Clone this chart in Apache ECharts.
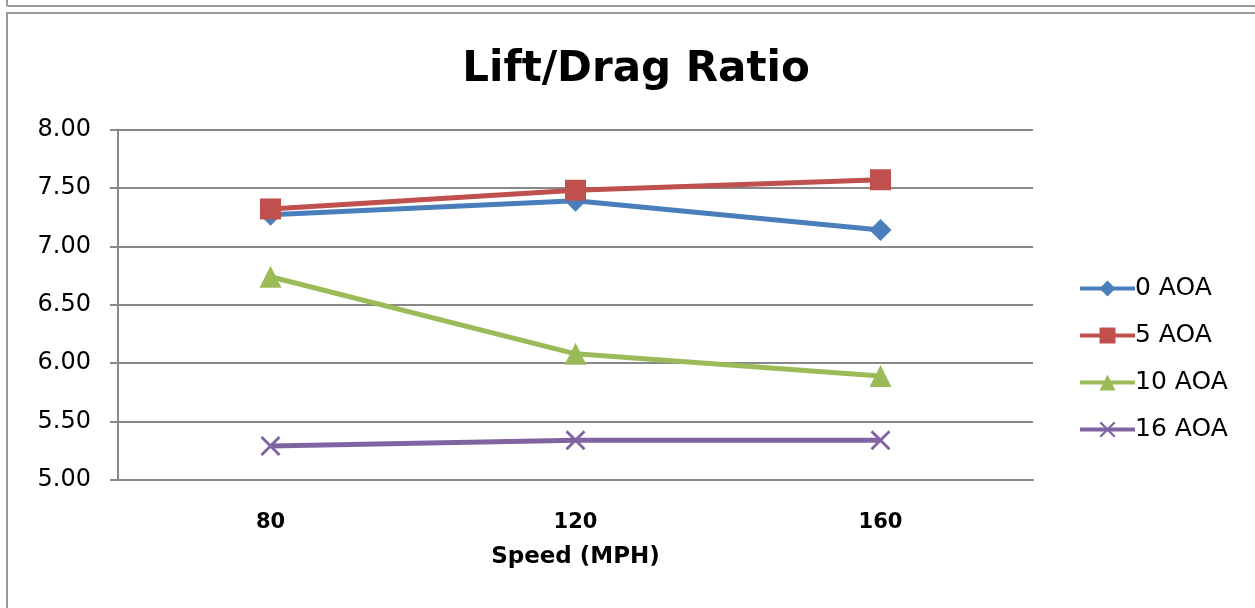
<!DOCTYPE html>
<html>
<head>
<meta charset="utf-8">
<script src="https://cdn.jsdelivr.net/npm/echarts@6/dist/echarts.min.js"></script>
<style>
  html, body { margin: 0; padding: 0; background: #fff; }
  #chart { width: 1255px; height: 608px; }
</style>
</head>
<body>
<div id="chart"></div>
<script>
// chart data
const speeds = ['80', '120', '160']
const aoa0 = [7.27, 7.39, 7.14]
const aoa5 = [7.32, 7.48, 7.57]
const aoa10 = [6.74, 6.08, 5.89]
const aoa16 = [5.29, 5.34, 5.34]
const yTicks = { min: 5, max: 8, step: 0.5 }

const FONT = '"DejaVu Sans", "Liberation Sans", sans-serif'
const crossPath = 'path://M0,1L1,0L5,4L9,0L10,1L6,5L10,9L9,10L5,6L1,10L0,9L4,5Z'

function lineSeries(name, data, color, symbol, size) {
  return {
    name: name,
    type: 'line',
    data: data,
    symbol: symbol,
    symbolSize: size,
    lineStyle: { color: color, width: 5 },
    itemStyle: { color: color },
    emphasis: { disabled: true },
    animation: false
  }
}

const chart = echarts.init(document.getElementById('chart'))
chart.setOption({
  backgroundColor: '#fff',
  title: {
    text: 'Lift/Drag Ratio',
    left: 636,
    top: 49,
    textAlign: 'center',
    padding: 0,
    textStyle: { fontFamily: FONT, fontSize: 42, fontWeight: 'bold', color: '#000' }
  },
  grid: {
    left: 118,
    right: 222,
    top: 129.5,
    bottom: 128,
    containLabel: false
  },
  legend: {
    orient: 'vertical',
    left: 1073,
    top: 271,
    itemWidth: 55,
    itemHeight: 20,
    itemGap: 22,
    lineStyle: { width: 4 },
    data: ['0 AOA', '5 AOA', '10 AOA', '16 AOA'],
    textStyle: { fontFamily: FONT, fontSize: 25, color: '#000', padding: [0, 0, 0, -5] }
  },
  xAxis: {
    type: 'category',
    data: speeds,
    boundaryGap: true,
    name: 'Speed (MPH)',
    nameLocation: 'middle',
    nameGap: 66,
    nameTextStyle: { fontFamily: FONT, fontSize: 23, fontWeight: 'bold', color: '#000' },
    axisLine: { lineStyle: { color: '#888', width: 2 } },
    axisTick: { show: false },
    axisLabel: { margin: 32, fontFamily: FONT, fontSize: 21, fontWeight: 'bold', color: '#000' }
  },
  yAxis: {
    type: 'value',
    min: yTicks.min,
    max: yTicks.max,
    interval: yTicks.step,
    axisLine: { show: true, lineStyle: { color: '#888', width: 2 } },
    axisTick: { show: true, length: 8, lineStyle: { color: '#888', width: 2 } },
    splitLine: { lineStyle: { color: '#888', width: 2 } },
    axisLabel: {
      margin: 27,
      fontFamily: FONT,
      fontSize: 24,
      color: '#000',
      formatter: v => v.toFixed(2)
    }
  },
  graphic: [
    { type: 'line', shape: { x1: 7, y1: 6, x2: 1255, y2: 6 }, style: { stroke: '#999', lineWidth: 2 } },
    { type: 'line', shape: { x1: 7, y1: 0, x2: 7, y2: 6 }, style: { stroke: '#999', lineWidth: 2 } },
    { type: 'rect', shape: { x: 7, y: 13, width: 1260, height: 620 }, style: { fill: 'none', stroke: '#999', lineWidth: 2 } }
  ],
  series: [
    lineSeries('0 AOA', aoa0, '#4A7EBB', 'diamond', 22),
    lineSeries('5 AOA', aoa5, '#C0504D', 'rect', 21),
    lineSeries('10 AOA', aoa10, '#9BBB59', 'triangle', 22),
    lineSeries('16 AOA', aoa16, '#8064A2', crossPath, 20)
  ]
})
</script>
</body>
</html>
